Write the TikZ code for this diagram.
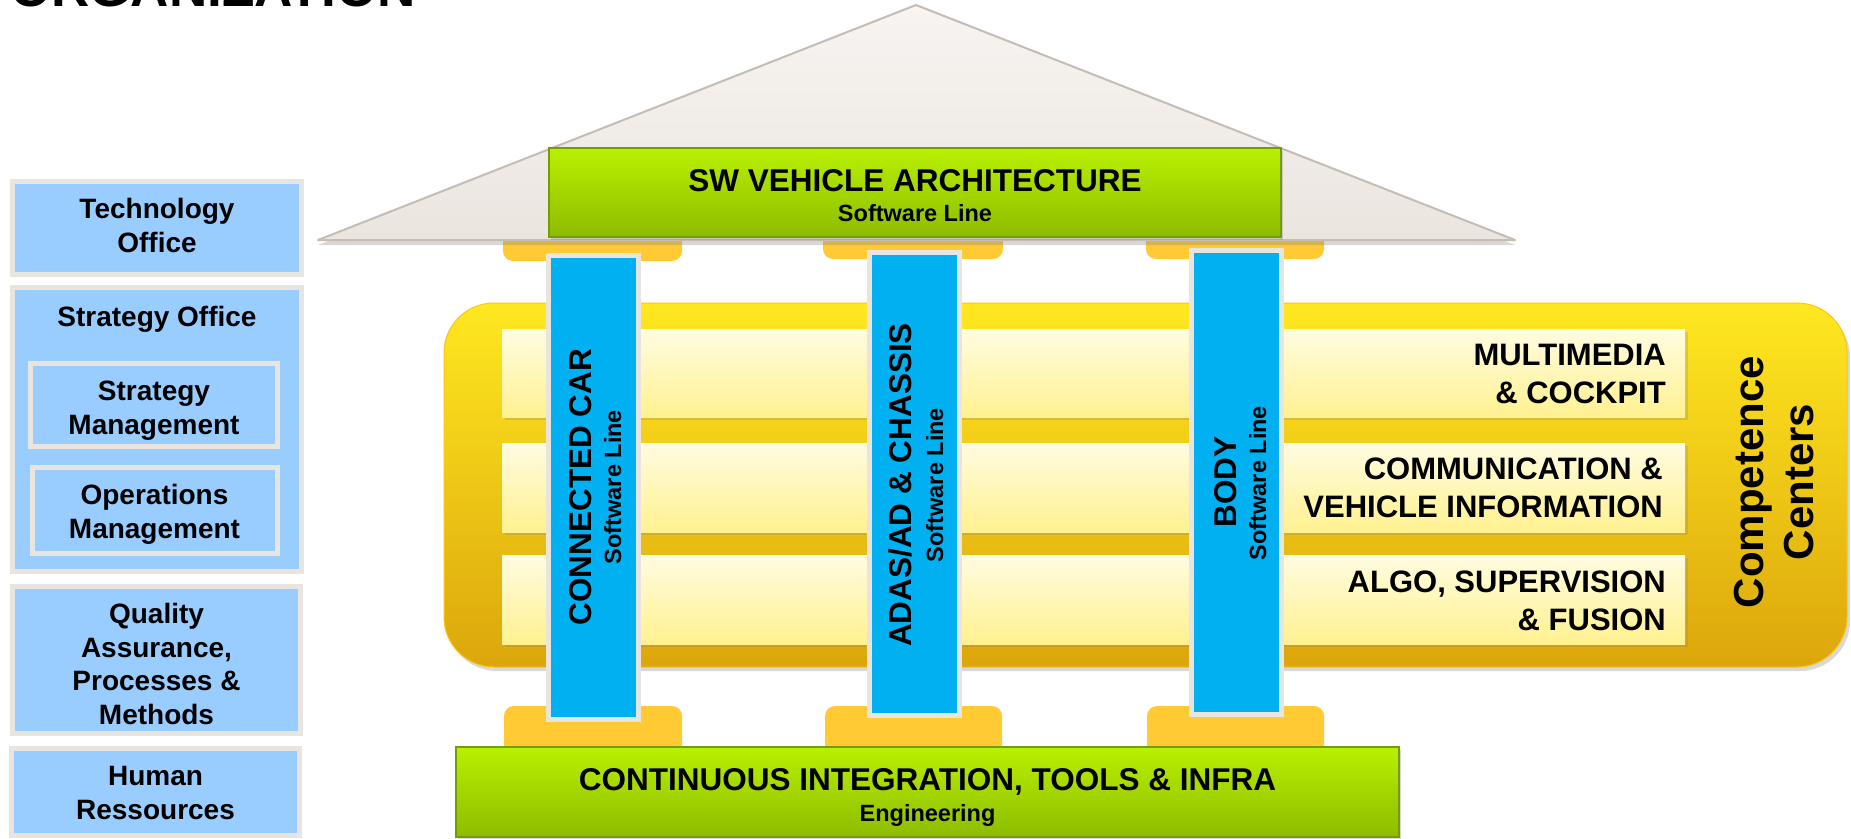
\documentclass[tikz,border=0pt]{standalone}
\usepackage{fontspec}
\setmainfont{Liberation Sans}
\usetikzlibrary{shadows}
\definecolor{rim}{HTML}{E8E4E0}
\definecolor{lblue}{HTML}{99CCFF}
\definecolor{pblue}{HTML}{00B0F0}
\definecolor{capy}{HTML}{FFCA33}
\definecolor{greentop}{HTML}{B9F000}
\definecolor{greenbot}{HTML}{8CBC00}
\definecolor{greenedge}{HTML}{739E00}
\definecolor{ytop}{HTML}{FFE820}
\definecolor{ymid}{HTML}{FFD515}
\definecolor{ybot}{HTML}{DCA60C}
\definecolor{bandtop}{HTML}{FFFCE0}
\definecolor{bandbot}{HTML}{FFF190}
\definecolor{rooftop}{HTML}{F7F4F1}
\definecolor{roofbot}{HTML}{EBE5DF}
\definecolor{roofedge}{HTML}{C5BCB3}
\begin{document}
\begin{tikzpicture}[x=1pt,y=-1pt,
  leftbox/.style={draw=rim, line width=5pt, fill=lblue, inner sep=0pt},
  leftlabel/.style={align=center, inner sep=0pt, font=\bfseries\fontsize{28}{34}\selectfont},
  greenbox/.style={draw=greenedge, line width=1.5pt, top color=greentop, bottom color=greenbot, inner sep=0pt,
     drop shadow={shadow xshift=2pt, shadow yshift=-3pt, opacity=0.3}},
  bigtext/.style={inner sep=0pt, font=\bfseries\fontsize{31.5}{38}\selectfont},
  subtext/.style={inner sep=0pt, font=\bfseries\fontsize{23.5}{28}\selectfont},
  capbox/.style={fill=capy, rounded corners=10pt, inner sep=0pt},
  pillar/.style={draw=rim, line width=5pt, fill=pblue, inner sep=0pt, minimum width=90pt},
  band/.style={top color=bandtop, bottom color=bandbot, inner sep=0pt, minimum width=1183pt,
     drop shadow={shadow xshift=3pt, shadow yshift=-3pt, opacity=0.25}},
  bandtext/.style={align=right, anchor=east, inner sep=0pt, font=\bfseries\fontsize{31}{38}\selectfont}]
\useasboundingbox (0,0) rectangle (1851,838);
\clip (0,0) rectangle (1851,838);
\fill[white] (0,0) rectangle (1851,838);

% title (cut off at the top)
\node[anchor=base west, inner sep=0pt, font=\bfseries\fontsize{53}{53}\selectfont] (title) at (10,6.5) {ORGANIZATION};

% left column
\node[leftbox, minimum width=289pt, minimum height=93pt] (tech) at (157,228) {};
\node[leftlabel] (tech-l) at (157,225) {Technology\\Office};
\node[leftbox, minimum width=289pt, minimum height=284pt] (strat) at (157,429.5) {};
\node[leftlabel, anchor=base] (strat-l) at (157,326) {Strategy Office};
\node[leftbox, minimum width=247pt, minimum height=83pt] (sm) at (154,405) {};
\node[leftlabel] (sm-l) at (154,411) {Strategy\\Management};
\node[leftbox, minimum width=245pt, minimum height=86pt] (om) at (154.5,510.5) {};
\node[leftlabel] (om-l) at (154.5,514) {Operations\\Management};
\node[leftbox, minimum width=288pt, minimum height=147pt] (qa) at (156.5,660) {};
\node[leftlabel, font=\bfseries\fontsize{28}{33.5}\selectfont] (qa-l) at (156.5,664) {Quality\\Assurance,\\Processes \&\\Methods};
\node[leftbox, minimum width=288pt, minimum height=87pt] (hr) at (155.5,792) {};
\node[leftlabel] (hr-l) at (155.5,792.5) {Human\\Ressources};

% capitals under the roof
\node[capbox, minimum width=179pt, minimum height=33pt] (cap1) at (592.5,244.5) {};
\node[capbox, minimum width=180pt, minimum height=31pt] (cap2) at (913,243.5) {};
\node[capbox, minimum width=178pt, minimum height=31pt] (cap3) at (1235,243.5) {};

% roof
\draw[draw=roofedge, line width=2pt, top color=rooftop, bottom color=roofbot, line join=round,
  drop shadow={shadow xshift=0pt, shadow yshift=-5pt, opacity=0.3}]
  (318,240) -- (916,5) -- (1515,240) -- cycle;

% SW vehicle architecture
\node[greenbox, minimum width=732pt, minimum height=89pt] (swva) at (915,192.5) {};
\node[bigtext, anchor=base] (swva-t) at (915,191) {SW VEHICLE ARCHITECTURE};
\node[subtext, anchor=base] (swva-s) at (915,221) {Software Line};

% competence centers
\node[rounded corners=50pt, top color=ytop, middle color=ymid, bottom color=ybot, draw=ymid!80!orange, line width=1pt,
  minimum width=1403pt, minimum height=364pt, inner sep=0pt,
  drop shadow={shadow xshift=3pt, shadow yshift=-4pt, opacity=0.3}] (cc) at (1145.5,485) {};
\node[band, minimum height=88pt] (band1) at (1093.5,373) {};
\node[band, minimum height=89pt] (band2) at (1093.5,487.5) {};
\node[band, minimum height=89pt] (band3) at (1093.5,599.5) {};
\node[bandtext] (band1-t) at (1666,374) {MULTIMEDIA\\\& COCKPIT};
\node[bandtext] (band2-t) at (1663,487.5) {COMMUNICATION \&\\VEHICLE INFORMATION};
\node[bandtext] (band3-t) at (1666,601) {ALGO, SUPERVISION\\\& FUSION};
\node[rotate=90, align=center, inner sep=0pt, font=\bfseries\fontsize{42}{50}\selectfont] (cc-t) at (1774,482) {Competence\\Centers};

% bases
\node[capbox, minimum width=178pt, minimum height=54pt] (base1) at (593,733) {};
\node[capbox, minimum width=177pt, minimum height=54pt] (base2) at (913.5,733) {};
\node[capbox, minimum width=177pt, minimum height=54pt] (base3) at (1235.5,733) {};

% pillars
\node[pillar, minimum height=464pt] (p1) at (593.5,487.5) {};
\node[pillar, minimum height=463pt] (p2) at (914.5,484) {};
\node[pillar, minimum height=464pt] (p3) at (1236.5,482.5) {};
\node[bigtext, rotate=90, anchor=base] (p1-t) at (591,487) {CONNECTED CAR};
\node[subtext, rotate=90, anchor=base] (p1-s) at (621,487) {Software Line};
\node[bigtext, rotate=90, anchor=base] (p2-t) at (911,485) {ADAS/AD \& CHASSIS};
\node[subtext, rotate=90, anchor=base] (p2-s) at (943,485) {Software Line};
\node[bigtext, rotate=90, anchor=base] (p3-t) at (1236,482) {BODY};
\node[subtext, rotate=90, anchor=base] (p3-s) at (1266,483) {Software Line};

% continuous integration
\node[greenbox, minimum width=943pt, minimum height=90pt] (ci) at (927.5,792) {};
\node[bigtext, anchor=base] (ci-t) at (927.5,790) {CONTINUOUS INTEGRATION, TOOLS \& INFRA};
\node[subtext, anchor=base] (ci-s) at (927.5,821) {Engineering};
\end{tikzpicture}
\end{document}
